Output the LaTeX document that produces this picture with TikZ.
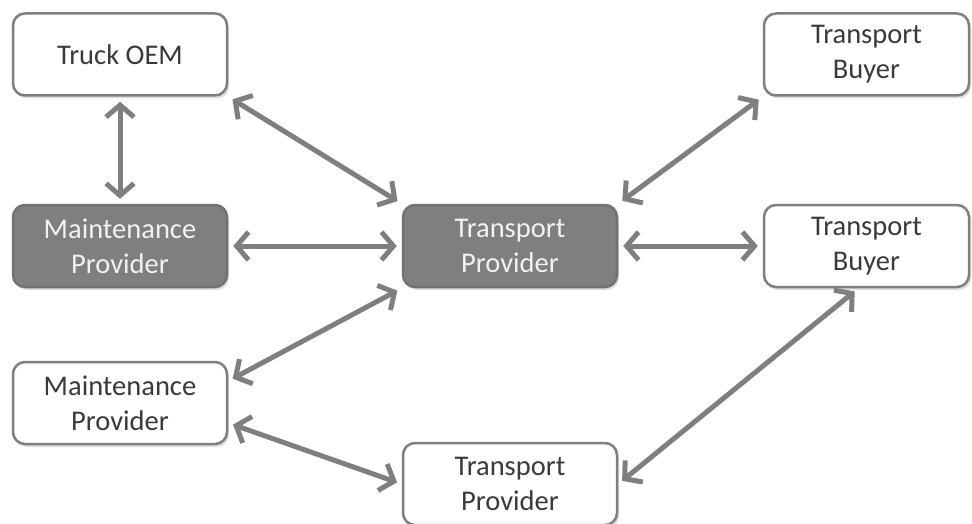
\documentclass[tikz,border=0pt]{standalone}
\usepackage{fontspec}
\setmainfont{Carlito}
\usepackage{tikz}
\usetikzlibrary{arrows.meta}
\usetikzlibrary{shadows}
\definecolor{edgegray}{HTML}{7F7F7F}
\definecolor{fillgray}{HTML}{7F7F7F}
\definecolor{textgray}{HTML}{3A3A3A}
\definecolor{lightgray}{HTML}{F2F2F2}
\tikzset{
  party/.style={draw=edgegray, line width=2.5pt, rounded corners=12pt, fill=white,
    minimum width=214pt, minimum height=82pt, inner sep=0pt, align=center,
    text=textgray, font=\fontsize{28.5}{35}\selectfont,
    drop shadow={shadow xshift=2pt, shadow yshift=-3pt, opacity=0.25}},
  buyer/.style={party, minimum width=205pt},
  focal/.style={party, fill=fillgray, draw=fillgray!90!black, text=lightgray},
  link/.style={draw=edgegray, line width=5pt,
    {Straight Barb[length=12pt,width=28pt]}-{Straight Barb[length=12pt,width=28pt]},
    shorten <=5pt, shorten >=5pt}
}
\begin{document}
\begin{tikzpicture}[x=1pt, y=-1pt]
        \useasboundingbox (0,0) rectangle (972,524);
        % left column
        \node[party] (oem) at (120,54.5) {Truck OEM};
        \node[focal] (mpmain) at (120,246) {Maintenance\\Provider};
        \node[party] (mpother) at (120,403) {Maintenance\\Provider};
        % middle column
        \node[focal] (tpmain) at (510,246) {Transport\\Provider};
        \node[party] (tpother) at (510,484) {Transport\\Provider};
        % right column
        \node[buyer] (tbtop) at (866.5,54.5) {Transport\\Buyer};
        \node[buyer] (tbmid) at (866.5,246) {Transport\\Buyer};
        % links
        \draw[link] (oem.south) -- (mpmain.north);
        \draw[link] (oem.south east) -- (tpmain.north west);
        \draw[link] (mpmain.east) -- (tpmain.west);
        \draw[link] (tpmain.north east) -- (tbtop.south west);
        \draw[link] (tpmain.east) -- (tbmid.west);
        \draw[link] (tpmain.south west) -- ([yshift=22pt]mpother.east);
        \draw[link] ([yshift=-20pt]mpother.east) -- (tpother.west);
        \draw[link] (tpother.east) -- ([xshift=-8pt]tbmid.south);
\end{tikzpicture}
\end{document}
